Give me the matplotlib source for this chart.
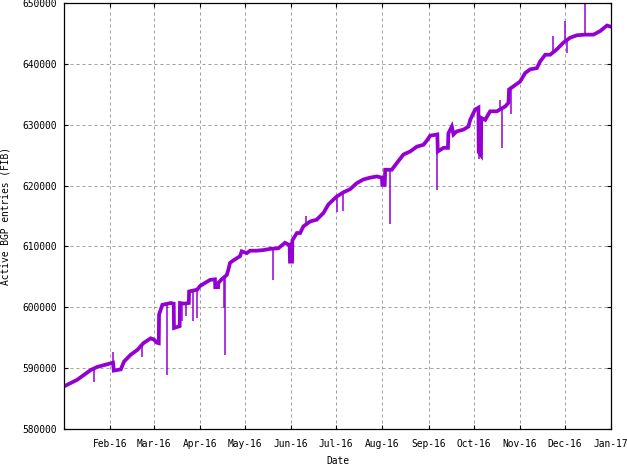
import matplotlib
matplotlib.use("Agg")
import matplotlib.pyplot as plt
import numpy as np
import pandas as pd

start_date = "2016-01-01"
end_date = "2017-01-01"

# main series: day offsets from 2016-01-01 and active BGP entries
main_days = [0, 8.9, 13.4, 17.9, 22.3, 26.8, 31.3, 32.8, 33.3, 38, 40.2, 44.6, 49.1,
             53.1, 58, 60.2, 62, 63.4, 63.6, 65.8, 71.4, 73.4, 73.6, 77.4, 77.6, 80.3,
             83.5, 83.7, 89.2, 91, 97.7, 101, 101.2, 103.1, 103.3, 105.5, 108.9, 110,
             111.1, 113.3, 117.8, 118.9, 122.3, 124.5, 129, 133.4, 137.9, 143.4, 147.9,
             150.1, 151.0, 151.2, 152.6, 152.8, 155.8, 158, 160.2, 164.7, 169.1, 173.6,
             176.9, 180.3, 182.5, 187, 191.4, 195.9, 200.3, 204.8, 209.3, 212.7, 213.0,
             214.6, 214.9, 219.3, 222.7, 227.1, 231.6, 236.1, 240.5, 242.8, 245, 249.8,
             250.1, 253.9, 256.9, 257.2, 259.5, 260.6, 262.8, 267.3, 270.6, 271.8, 275.1,
             277.3, 277.5, 279.0, 279.2, 281.8, 285.1, 289.6, 295.2, 297.4, 297.8, 300.7,
             305.2, 308.6, 311.9, 316.4, 318.6, 322, 325.3, 329.8, 334.2, 338.7, 343.2,
             348.7, 354.3, 358.8, 363.3, 366]
main_values = [587000, 588100, 588900, 589700, 590200, 590500, 590800, 590900, 589600,
               589800, 591100, 592200, 593000, 594100, 594900, 594700, 594200, 594100,
               598800, 600400, 600700, 600600, 596600, 596900, 600700, 600600, 600700,
               602600, 602900, 603500, 604500, 604600, 603300, 603300, 604000, 604600,
               605300, 606200, 607300, 607700, 608400, 609200, 608900, 609300, 609300,
               609400, 609600, 609700, 610600, 610300, 610300, 607500, 607500, 611000,
               612200, 612200, 613300, 614100, 614400, 615500, 616900, 617700, 618200,
               618900, 619400, 620400, 621000, 621300, 621500, 621300, 620100, 620100,
               622600, 622600, 623700, 625100, 625600, 626400, 626700, 627400, 628200,
               628400, 625600, 626200, 626200, 628600, 629700, 628400, 628900, 629200,
               629700, 630800, 632500, 632800, 625500, 625000, 631100, 630800, 632200,
               632200, 633000, 633600, 635800, 636300, 637100, 638500, 639100, 639300,
               640400, 641500, 641500, 642400, 643500, 644300, 644700, 644800, 644800,
               645400, 646300, 646100]

# short outlier spikes: day offsets and extreme values
spike_days = [20.1, 32.6, 52.5, 69.1, 79.2, 81.4, 86.5, 89.0, 107.1, 107.8, 139.7, 162,
              182.5, 187, 217.8, 249.5, 278.0, 291.8, 293.4, 299.2, 327.5, 335.3, 336.5,
              348.9]
spike_values = [587800, 592600, 591800, 588900, 597700, 598500, 597700, 598200, 599900,
                592100, 604500, 615000, 615600, 615800, 613700, 619200, 624400, 634100,
                626200, 631800, 644500, 647000, 641800, 650500]

y_ticks = [580000, 590000, 600000, 610000, 620000, 630000, 640000, 650000]
x_tick_labels = ["Feb-16", "Mar-16", "Apr-16", "May-16", "Jun-16", "Jul-16", "Aug-16",
                 "Sep-16", "Oct-16", "Nov-16", "Dec-16", "Jan-17"]

t0 = pd.Timestamp(start_date)
main_t = t0 + pd.to_timedelta(main_days, unit="D")
spike_t = t0 + pd.to_timedelta(spike_days, unit="D")
base = np.interp(spike_days, main_days, main_values)

plt.rcParams["font.family"] = ["DejaVu Sans Mono"]
fig = plt.figure(figsize=(6.27, 4.66), dpi=100)
ax = fig.add_axes([64 / 627, 37 / 466, 547 / 627, 426 / 466])

color = "#9400D3"
ax.plot(main_t, main_values, color=color, lw=2.7, solid_joinstyle="miter")
ax.vlines(spike_t, base, spike_values, color=color, lw=1.1)

ax.set_xlim(pd.Timestamp(start_date), pd.Timestamp(end_date))
ax.set_ylim(y_ticks[0], y_ticks[-1])
ax.set_yticks(y_ticks)
ax.set_yticklabels([str(v) for v in y_ticks])
month_ticks = pd.date_range("2016-02-01", "2017-01-01", freq="MS")
ax.set_xticks(month_ticks)
ax.set_xticklabels(x_tick_labels)

fs = 6.9
ax.grid(True, color="#a0a0a0", lw=0.72, linestyle=(0, (3, 3)))
ax.tick_params(direction="in", length=3.2, width=0.8, top=True, right=True,
               labelsize=fs, colors="black")
ax.tick_params(axis="x", pad=7)
ax.tick_params(axis="y", pad=5)
for s in ax.spines.values():
    s.set_linewidth(0.9)

ax.set_xlabel("Date", fontsize=fs, labelpad=5)
ax.set_ylabel("Active BGP entries (FIB)", fontsize=fs, labelpad=9)

fig.savefig("out.png", dpi=100)
